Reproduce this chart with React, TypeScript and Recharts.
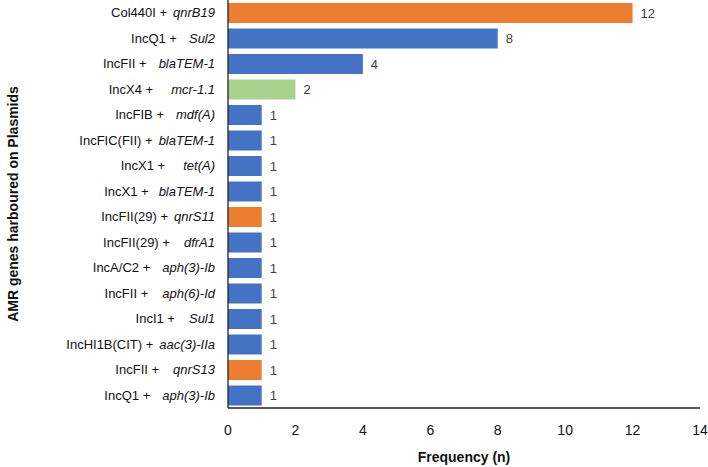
import React from 'react';
import { BarChart, Bar, XAxis, YAxis, Cell, LabelList, Label } from 'recharts';

const plasmids = [
  'Col440I', 'IncQ1', 'IncFII', 'IncX4', 'IncFIB', 'IncFIC(FII)', 'IncX1', 'IncX1',
  'IncFII(29)', 'IncFII(29)', 'IncA/C2', 'IncFII', 'IncI1', 'IncHI1B(CIT)', 'IncFII', 'IncQ1',
];
const genes = [
  'qnrB19', 'Sul2', 'blaTEM-1', 'mcr-1.1', 'mdf(A)', 'blaTEM-1', 'tet(A)', 'blaTEM-1',
  'qnrS11', 'dfrA1', 'aph(3)-Ib', 'aph(6)-Id', 'Sul1', 'aac(3)-IIa', 'qnrS13', 'aph(3)-Ib',
];
// extra gap before the gene name, as in the original figure
const geneGap = [2, 8, 8, 14, 8, 2, 14, 6, 2, 10, 8, 10, 10, 2, 10, 8];
const frequency = [12, 8, 4, 2, 1, 1, 1, 1, 1, 1, 1, 1, 1, 1, 1, 1];
const geneClass = [
  'quinolone', 'other', 'other', 'colistin', 'other', 'other', 'other', 'other',
  'quinolone', 'other', 'other', 'other', 'other', 'other', 'quinolone', 'other',
];
const xTicks = [0, 2, 4, 6, 8, 10, 12, 14];

const classColors: Record<string, string> = {
  quinolone: '#ED7D31',
  colistin: '#A9D18E',
  other: '#4472C4',
};

const data = plasmids.map((p, i) => ({
  name: `${p} + ${genes[i]}`,
  plasmid: p,
  gene: genes[i],
  value: frequency[i],
  cls: geneClass[i],
}));

const font = '"Liberation Sans", Arial, Helvetica, sans-serif';

const PairTick = (props: any) => {
  const { y, index } = props;
  const d = data[index];
  if (!d) return null;
  return (
    <text x={215} y={y} dy={4.5} textAnchor="end" fontSize={13} fill="#111" fontFamily={font}>
      <tspan>{d.plasmid} +</tspan>
      <tspan fontStyle="italic" dx={4 + geneGap[index]}>{d.gene}</tspan>
    </text>
  );
};

const App: React.FC = () => {
  return (
    <div style={{ position: 'absolute', left: 0, top: 0, background: '#fff' }}>
      <BarChart
        width={708}
        height={467}
        data={data}
        layout="vertical"
        margin={{ top: 0, right: 8, bottom: 0, left: 0 }}
        barSize={20}
      >
        <XAxis
          type="number"
          domain={[0, 14]}
          ticks={xTicks}
          tickLine={false}
          axisLine={{ stroke: '#222', strokeWidth: 1.3 }}
          tick={{ fontSize: 14, fill: '#111', fontFamily: font }}
          tickMargin={11}
          height={59}
        >
          <Label
            value="Frequency (n)"
            position="insideBottom"
            offset={5}
            style={{ fontSize: 14, fontWeight: 700, fill: '#111', fontFamily: font }}
          />
        </XAxis>
        <YAxis
          type="category"
          dataKey="name"
          width={228}
          interval={0}
          tickLine={false}
          axisLine={{ stroke: '#222', strokeWidth: 1.3 }}
          tick={<PairTick />}
        >
          <Label
            value="AMR genes harboured on Plasmids"
            angle={-90}
            position="insideLeft"
            offset={13}
            style={{ textAnchor: 'middle', fontSize: 14, fontWeight: 700, fill: '#111', fontFamily: font }}
          />
        </YAxis>
        <Bar dataKey="value" isAnimationActive={false}>
          {data.map((d, i) => (
            <Cell key={i} fill={classColors[d.cls]} />
          ))}
          <LabelList
            dataKey="value"
            position="right"
            offset={8}
            style={{ fontSize: 13, fill: '#404040', fontFamily: font }}
          />
        </Bar>
      </BarChart>
    </div>
  );
};

export default App;
